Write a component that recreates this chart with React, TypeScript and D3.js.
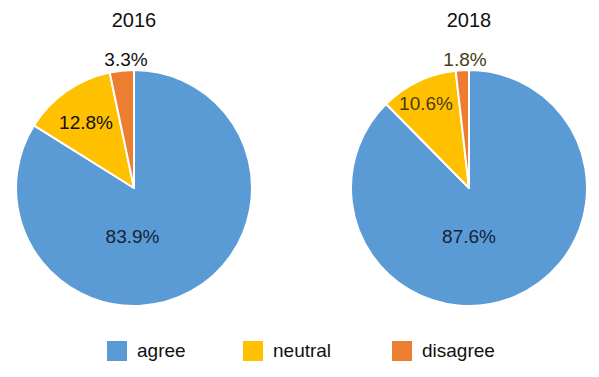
import React from "react";
import * as d3 from "d3";

const categories = ["agree", "neutral", "disagree"];
const years = ["2016", "2018"];
const values2016 = [83.9, 12.8, 3.3];
const values2018 = [87.6, 10.6, 1.8];
const colors = ["#5b9bd5", "#ffc000", "#ed7d31"];

// label offsets relative to pie centre (style only)
const labelOffsets2016 = [[-1.5, 55], [-48, -59], [-8, -122]];
const labelOffsets2018 = [[0, 55], [-43, -78], [-4, -122]];
const labelColors2016 = ["#14233a", "#111111", "#111111"];
const labelColors2018 = ["#14233a", "#4a3c12", "#4a3c12"];

const W = 599;
const H = 377;
const R = 118;
const FONT = "'Liberation Sans', Arial, sans-serif";

function Pie({ cx, cy, values, title, offsets, labelColors }: any) {
  const pie = d3.pie<number>().sort(null).startAngle(0).endAngle(2 * Math.PI);
  const arc = d3.arc<d3.PieArcDatum<number>>().innerRadius(0).outerRadius(R);
  const arcs = pie(values);
  return (
    <g>
      <text x={cx} y={27} textAnchor="middle" fontSize={20} fontFamily={FONT} fill="#111">
        {title}
      </text>
      <g transform={`translate(${cx},${cy})`}>
        {arcs.map((a, i) => (
          <path key={i} d={arc(a) || ""} fill={colors[i]} stroke="#fff" strokeWidth={2} strokeLinejoin="round" />
        ))}
        {arcs.map((a, i) => (
          <text
            key={"t" + i}
            x={offsets[i][0]}
            y={offsets[i][1]}
            textAnchor="middle"
            fontSize={19}
            fontFamily={FONT}
            fill={labelColors[i]}
          >
            {d3.format(".1f")(values[i]) + "%"}
          </text>
        ))}
      </g>
    </g>
  );
}

const legendX = [107, 243, 392];

export default function App() {
  return (
    <svg width={W} height={H} style={{ position: "absolute", left: 0, top: 0, background: "#fff" }}>
      <rect x={0} y={0} width={W} height={H} fill="#fff" />
      <Pie cx={134} cy={188} values={values2016} title={years[0]} offsets={labelOffsets2016} labelColors={labelColors2016} />
      <Pie cx={469} cy={188} values={values2018} title={years[1]} offsets={labelOffsets2018} labelColors={labelColors2018} />
      {categories.map((c, i) => (
        <g key={c}>
          <rect x={legendX[i]} y={341} width={20} height={20} fill={colors[i]} />
          <text x={legendX[i] + 30} y={357} fontSize={19} fontFamily={FONT} fill="#111">
            {c}
          </text>
        </g>
      ))}
    </svg>
  );
}
